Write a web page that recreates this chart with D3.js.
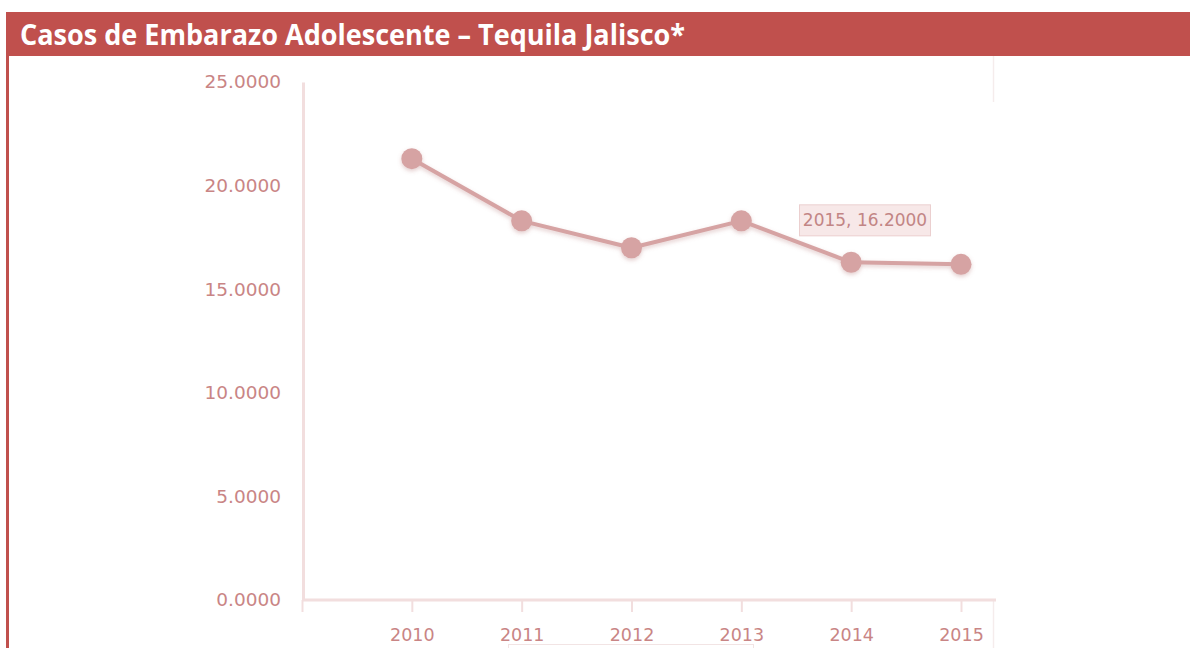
<!DOCTYPE html>
<html>
<head>
<meta charset="utf-8">
<script src="https://cdn.jsdelivr.net/npm/d3@7/dist/d3.min.js"></script>
<style>
  html, body { margin: 0; padding: 0; background: #fff; }
  svg { display: block; }
</style>
</head>
<body>
<svg id="chart" width="1190" height="648"></svg>
<script>
// Teen pregnancy cases, Tequila (Jalisco), by year
const years = [2010, 2011, 2012, 2013, 2014, 2015];
const cases = [21.3, 18.3, 17.0, 18.3, 16.3, 16.2];
const yTicks = [0, 5, 10, 15, 20, 25];
const titleText = "Casos de Embarazo Adolescente \u2013 Tequila Jalisco*";
const hoverIndex = 5;

const svg = d3.select("#chart");
const red = "#C0504D";
const lineColor = "#D6A3A3";
const axisColor = "#F2DEDE";
const labelColor = "#C98585";

// Header bar and left frame stripe
svg.append("rect").attr("x", 6).attr("y", 12).attr("width", 1184).attr("height", 44).attr("fill", red);
svg.append("rect").attr("x", 6).attr("y", 56).attr("width", 3).attr("height", 592).attr("fill", red);
svg.append("text")
  .attr("x", 20).attr("y", 45)
  .attr("fill", "#fff")
  .attr("font-family", "Liberation Sans Narrow, Open Sans, sans-serif")
  .attr("font-weight", 700)
  .attr("font-size", 28)
  .attr("textLength", 665)
  .attr("lengthAdjust", "spacingAndGlyphs")
  .text(titleText);

// Faint frame of the embedded chart area
svg.append("line").attr("x1", 993.5).attr("x2", 993.5).attr("y1", 56).attr("y2", 102)
  .attr("stroke", "#F5ECEC").attr("stroke-width", 1.5);
svg.append("line").attr("x1", 993.5).attr("x2", 993.5).attr("y1", 600).attr("y2", 648)
  .attr("stroke", "#F5ECEC").attr("stroke-width", 1.5);
svg.append("rect").attr("x", 508.5).attr("y", 644.5).attr("width", 245).attr("height", 10)
  .attr("fill", "none").attr("stroke", "#F2E4E4").attr("stroke-width", 1);

// Scales
const x = d3.scaleLinear().domain([2009, 2015]).range([302, 961]);
const y = d3.scaleLinear().domain([0, 25]).range([600, 82]);

const defs = svg.append("defs");
const soft = defs.append("filter").attr("id", "soft")
  .attr("x", "-10%").attr("y", "-10%").attr("width", "120%").attr("height", "130%");
soft.append("feGaussianBlur").attr("in", "SourceAlpha").attr("stdDeviation", 2).attr("result", "b");
soft.append("feOffset").attr("in", "b").attr("dy", 2).attr("result", "o");
soft.append("feFlood").attr("flood-color", "#B07070").attr("flood-opacity", 0.35);
soft.append("feComposite").attr("in2", "o").attr("operator", "in").attr("result", "s");
const m = soft.append("feMerge");
m.append("feMergeNode").attr("in", "s");
m.append("feMergeNode").attr("in", "SourceGraphic");

// Y axis
const yAxis = d3.axisLeft(y).tickValues(yTicks).tickSize(0).tickPadding(22)
  .tickFormat(d => d3.format(".4f")(d));
const gy = svg.append("g").attr("transform", "translate(303,0)").call(yAxis);
gy.select(".domain").attr("stroke", axisColor).attr("stroke-width", 3);
gy.selectAll("text").attr("fill", labelColor)
  .attr("font-family", "DejaVu Sans, sans-serif").attr("font-size", 18.5);

// X axis
const xAxis = d3.axisBottom(x).tickValues([2009].concat(years)).tickSize(12).tickPadding(17)
  .tickSizeOuter(0)
  .tickFormat(d => years.includes(d) ? String(d) : "");
const gx = svg.append("g").attr("transform", "translate(0,600)").call(xAxis);
gx.select(".domain").attr("d", "M302,0H996").attr("stroke", axisColor).attr("stroke-width", 3);
gx.selectAll(".tick line").attr("stroke", axisColor).attr("stroke-width", 2);
gx.selectAll("text").attr("fill", labelColor)
  .attr("font-family", "DejaVu Sans, sans-serif").attr("font-size", 17.5);

// Series line and markers
const data = years.map((yr, i) => ({ yr, v: cases[i] }));
const series = svg.append("g").attr("filter", "url(#soft)");
series.append("path")
  .datum(data)
  .attr("fill", "none")
  .attr("stroke", lineColor)
  .attr("stroke-width", 4)
  .attr("stroke-linejoin", "round")
  .attr("d", d3.line().x(d => x(d.yr)).y(d => y(d.v)));
series.selectAll("circle").data(data).join("circle")
  .attr("cx", d => x(d.yr)).attr("cy", d => y(d.v)).attr("r", 10.5)
  .attr("fill", lineColor);

// Hover label for the last point
const hp = data[hoverIndex];
const tip = svg.append("g").attr("transform", `translate(${x(hp.yr) - 162},${y(hp.v) - 60})`);
tip.append("rect").attr("x", 0.5).attr("y", 0.5).attr("width", 131).attr("height", 31)
  .attr("fill", "#F7E8E8").attr("stroke", "#EBCFCF").attr("stroke-width", 1);
tip.append("text").attr("x", 66).attr("y", 22).attr("text-anchor", "middle")
  .attr("fill", "#C28585").attr("font-family", "DejaVu Sans, sans-serif").attr("font-size", 17)
  .text(`${hp.yr}, ${d3.format(".4f")(hp.v)}`);
</script>
</body>
</html>
